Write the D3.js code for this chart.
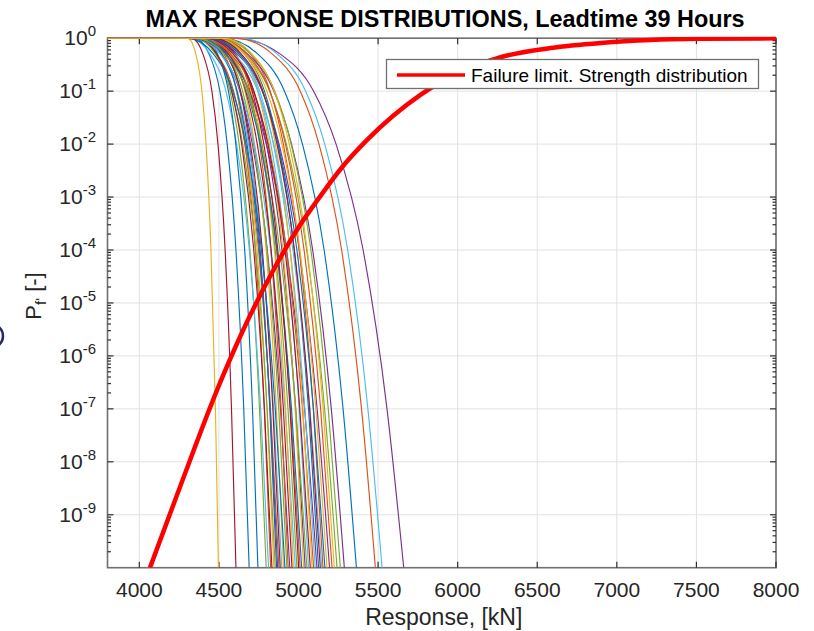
<!DOCTYPE html>
<html><head><meta charset="utf-8">
<script src="https://cdn.jsdelivr.net/npm/d3@7"></script>
<style>html,body{margin:0;padding:0;background:#fff;} svg{display:block;font-family:"Liberation Sans",Arial,Helvetica,sans-serif;}</style>
</head><body><svg id="chart" width="814" height="631"></svg>
<script>
// ---- data ----
// exceedance probability levels at which each response curve's x (kN) was read
const curveLevels = [1, 0.99, 0.5, 1e-1, 1e-2, 1e-4, 1e-7, 1e-10];
// one row per plotted max-response distribution, in plotting order
const responseCurves = [
  [3800,4350,4438,4506,4552,4607,4656,4690],
  [3800,4429,4532,4611,4664,4729,4785,4825],
  [3800,4305,4355,4393,4419,4450,4478,4497],
  [3800,4440,4550,4634,4691,4759,4820,4862],
  [3800,4377,4486,4570,4627,4695,4755,4797],
  [3800,4316,4445,4544,4611,4691,4762,4812],
  [3800,4328,4400,4456,4494,4539,4579,4607],
  [3800,4403,4492,4560,4606,4662,4711,4745],
  [3800,4350,4487,4592,4663,4749,4824,4877],
  [3800,4412,4524,4611,4670,4740,4802,4845],
  [3800,4364,4515,4631,4710,4804,4887,4945],
  [3800,4347,4479,4580,4649,4731,4803,4854],
  [3800,4379,4513,4616,4686,4769,4843,4895],
  [3800,4365,4486,4580,4643,4719,4786,4833],
  [3800,4395,4518,4613,4677,4754,4822,4869],
  [3800,4493,4608,4696,4756,4827,4891,4935],
  [3800,4456,4573,4663,4724,4797,4861,4906],
  [3800,4443,4598,4718,4799,4896,4982,5042],
  [3800,4413,4546,4649,4718,4802,4876,4927],
  [3800,4344,4509,4636,4722,4825,4916,4980],
  [3800,4424,4544,4636,4698,4773,4839,4885],
  [3800,4308,4466,4587,4669,4767,4854,4915],
  [3800,4405,4562,4683,4765,4863,4950,5010],
  [3800,4478,4605,4703,4769,4849,4919,4968],
  [3800,4332,4535,4692,4798,4925,5038,5116],
  [3800,4429,4575,4687,4763,4854,4934,4990],
  [3800,4478,4630,4747,4826,4921,5005,5063],
  [3800,4421,4560,4668,4741,4828,4905,4959],
  [3800,4378,4545,4673,4760,4864,4956,5020],
  [3800,4392,4574,4715,4810,4924,5025,5095],
  [3800,4499,4637,4744,4816,4902,4979,5032],
  [3800,4412,4616,4772,4878,5005,5117,5195],
  [3800,4354,4535,4675,4770,4883,4983,5053],
  [3800,4459,4627,4756,4843,4948,5040,5105],
  [3800,4461,4601,4709,4782,4870,4947,5001],
  [3800,4497,4660,4786,4871,4973,5063,5126],
  [3800,4540,4699,4822,4905,5005,5093,5154],
  [3800,4517,4664,4778,4855,4947,5028,5085],
  [3800,4468,4681,4845,4956,5089,5206,5288],
  [3800,4458,4661,4818,4924,5051,5164,5242],
  [3800,4402,4595,4744,4844,4965,5072,5146],
  [3800,4419,4589,4720,4808,4915,5008,5074],
  [3800,4441,4629,4774,4872,4990,5094,5166],
  [3800,4488,4675,4820,4918,5035,5139,5211],
  [3800,4480,4661,4801,4896,5009,5109,5179],
  [3800,4614,4886,5095,5236,5406,5556,5661],
  [3800,4501,4699,4851,4954,5078,5187,5263],
  [3800,4637,4867,5045,5165,5309,5436,5525],
  [3800,4467,4641,4775,4865,4974,5070,5137],
  [3800,4528,4745,4912,5025,5161,5280,5364],
  [3800,4610,4836,5011,5129,5271,5396,5483],
  [3800,4528,4708,4848,4942,5055,5155,5225]
];
// failure limit (strength distribution)
const strengthX = [4067,4256,4508,4654,4760,4885,5001,5126,5284,5431,5766,6270,6584,6899,7214,7528,8000];
const strengthP = [1e-10,3.39e-9,3.16e-7,3.16e-6,1.41e-5,7.08e-5,2.69e-4,9.33e-4,3.98e-3,1.2e-2,8.5e-2,0.437,0.652,0.813,0.925,0.973,0.995];
const xTickValues = [4000,4500,5000,5500,6000,6500,7000,7500,8000];
const yTickExponents = [0,-1,-2,-3,-4,-5,-6,-7,-8,-9];
const minorTickDecades = [0,-3,-4,-5,-6,-9];
const titleText = "MAX RESPONSE DISTRIBUTIONS, Leadtime 39 Hours";
const xLabelText = "Response, [kN]";
const legendText = "Failure limit. Strength distribution";

// ---- style ----
const colorOrder = ["#0072BD","#D95319","#EDB120","#7E2F8E","#77AC30","#4DBEEE","#A2142F"];
const textColor = "#262626";
const m = {left:107.5, right:776, top:38.2, bottom:567.7};

const svg = d3.select("#chart");
svg.append("rect").attr("width",814).attr("height",631).attr("fill","#fff");

const x = d3.scaleLinear().domain([3800,8000]).range([m.left,m.right]);
const y = d3.scaleLog().domain([1e-10,1]).range([m.bottom,m.top]);

// stray mark at left edge of the screenshot
svg.append("circle").attr("cx",-9).attr("cy",336).attr("r",12)
  .attr("fill","none").attr("stroke","#23236e").attr("stroke-width",2.5);

// grid
const grid = svg.append("g").attr("stroke","#e2e2e2").attr("stroke-width",1);
xTickValues.forEach(v=>{ grid.append("line").attr("x1",x(v)).attr("x2",x(v)).attr("y1",m.top).attr("y2",m.bottom); });
yTickExponents.forEach(e=>{ const yy=y(Math.pow(10,e)); grid.append("line").attr("x1",m.left).attr("x2",m.right).attr("y1",yy).attr("y2",yy); });

// frame
svg.append("rect").attr("x",m.left).attr("y",m.top).attr("width",m.right-m.left).attr("height",m.bottom-m.top)
  .attr("fill","none").attr("stroke","#707070").attr("stroke-width",1.6);

// ticks
const ticks = svg.append("g").attr("stroke","#303030").attr("stroke-width",1.2);
xTickValues.forEach(v=>{
  const xx=x(v);
  ticks.append("line").attr("x1",xx).attr("x2",xx).attr("y1",m.bottom).attr("y2",m.bottom-6);
  ticks.append("line").attr("x1",xx).attr("x2",xx).attr("y1",m.top).attr("y2",m.top+6);
});
yTickExponents.forEach(e=>{
  const yy=y(Math.pow(10,e));
  ticks.append("line").attr("x1",m.left).attr("x2",m.left+6).attr("y1",yy).attr("y2",yy);
  ticks.append("line").attr("x1",m.right).attr("x2",m.right-6).attr("y1",yy).attr("y2",yy);
});
minorTickDecades.forEach(e=>{
  for(let k=2;k<=9;k++){
    const yy=y(k*Math.pow(10,e-1));
    ticks.append("line").attr("x1",m.left).attr("x2",m.left+3.5).attr("y1",yy).attr("y2",yy);
    ticks.append("line").attr("x1",m.right).attr("x2",m.right-3.5).attr("y1",yy).attr("y2",yy);
  }
});

// tick labels
svg.append("g").selectAll("text").data(xTickValues).join("text")
  .attr("x",d=>x(d)).attr("y",597).attr("text-anchor","middle")
  .attr("font-size",21).attr("fill",textColor).text(d=>d);
const yl = svg.append("g").selectAll("text").data(yTickExponents).join("text")
  .attr("x",96).attr("y",d=>y(Math.pow(10,d))+7).attr("text-anchor","end")
  .attr("font-size",21).attr("fill",textColor);
yl.append("tspan").text("10");
yl.append("tspan").attr("dy",-9).attr("font-size",15).text(d=>String(d));

// axis labels and title
svg.append("text").attr("x",(m.left+m.right)/2+2).attr("y",625).attr("text-anchor","middle")
  .attr("font-size",23).attr("fill",textColor).text(xLabelText);
const ylab = svg.append("text").attr("transform","translate(41,296) rotate(-90)")
  .attr("text-anchor","middle").attr("font-size",22).attr("fill",textColor);
ylab.append("tspan").text("P");
ylab.append("tspan").attr("dy",5).attr("font-size",15).text("f'");
ylab.append("tspan").attr("dy",-5).text(" [-]");
svg.append("text").attr("x",445).attr("y",27).attr("text-anchor","middle")
  .attr("font-size",23.4).attr("font-weight","bold").attr("fill","#000").text(titleText);

// curves
svg.append("clipPath").attr("id","clip").append("rect")
  .attr("x",m.left).attr("y",m.top-1.5).attr("width",m.right-m.left+1).attr("height",m.bottom-m.top+1.5);
const plot = svg.append("g").attr("clip-path","url(#clip)");
const line = d3.line().x(d=>x(d[0])).y(d=>y(d[1])).curve(d3.curveMonotoneX);
responseCurves.forEach((xs,i)=>{
  const pts = xs.map((v,k)=>[v,curveLevels[k]]);
  plot.append("path").attr("d",line(pts)).attr("fill","none")
    .attr("stroke",colorOrder[i%colorOrder.length]).attr("stroke-width",1.15);
});
plot.append("path").attr("d",line(strengthX.map((v,k)=>[v,strengthP[k]])))
  .attr("fill","none").attr("stroke","#ff0000").attr("stroke-width",4.5).attr("stroke-linejoin","round");

// legend
const lg = svg.append("g");
lg.append("rect").attr("x",386.5).attr("y",59.5).attr("width",372).attr("height",29)
  .attr("fill","#fff").attr("stroke","#707070").attr("stroke-width",1.3);
lg.append("line").attr("x1",397).attr("x2",465).attr("y1",75).attr("y2",75)
  .attr("stroke","#ff0000").attr("stroke-width",3.5);
lg.append("text").attr("x",471).attr("y",81.5).attr("font-size",19).attr("fill","#000").text(legendText);
</script></body></html>
